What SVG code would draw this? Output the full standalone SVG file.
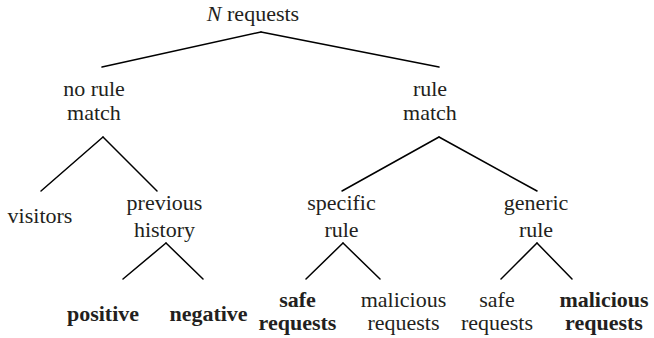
<svg xmlns="http://www.w3.org/2000/svg" width="654" height="338" viewBox="0 0 654 338" font-family="Liberation Serif, Times New Roman, DejaVu Serif, serif">
<style>
text{font-size:22px;fill:#231f20;text-anchor:middle}
.b{font-weight:bold}
.e line{stroke:#000;stroke-width:1.5;stroke-linecap:round}
</style>
<rect width="654" height="338" fill="#fff"/>
<g class="e" id="connectors">
<line x1="261" y1="32" x2="102" y2="67"/>
<line x1="261" y1="32" x2="439" y2="67"/>
<line x1="103" y1="137" x2="41" y2="191"/>
<line x1="103" y1="137" x2="157" y2="191"/>
<line x1="439" y1="137" x2="342" y2="191"/>
<line x1="439" y1="137" x2="537" y2="191"/>
<line x1="166" y1="243" x2="123" y2="279"/>
<line x1="166" y1="243" x2="203" y2="279"/>
<line x1="343" y1="243" x2="306" y2="279"/>
<line x1="343" y1="243" x2="380" y2="279"/>
<line x1="537" y1="243" x2="501" y2="279"/>
<line x1="537" y1="243" x2="572" y2="279"/>
</g>
<g id="root"><text x="253" y="21"><tspan font-style="italic">N</tspan> requests</text></g>
<g id="norule"><text x="94" y="96">no rule</text><text x="94" y="120">match</text></g>
<g id="rule"><text x="430" y="96">rule</text><text x="430" y="120">match</text></g>
<g id="visitors"><text x="40" y="223">visitors</text></g>
<g id="history"><text x="164.5" y="210">previous</text><text x="164.5" y="237">history</text></g>
<g id="specific"><text x="341.5" y="210">specific</text><text x="341.5" y="237">rule</text></g>
<g id="generic"><text x="536" y="210">generic</text><text x="536" y="237">rule</text></g>
<g id="positive"><text class="b" x="103" y="321">positive</text></g>
<g id="negative"><text class="b" x="208.5" y="321">negative</text></g>
<g id="safe1"><text class="b" x="297.5" y="307">safe</text><text class="b" x="297.5" y="330">requests</text></g>
<g id="mal1"><text x="403.5" y="307">malicious</text><text x="403.5" y="330">requests</text></g>
<g id="safe2"><text x="497" y="307">safe</text><text x="497" y="330">requests</text></g>
<g id="mal2"><text class="b" x="604" y="307">malicious</text><text class="b" x="604" y="330">requests</text></g>
</svg>
